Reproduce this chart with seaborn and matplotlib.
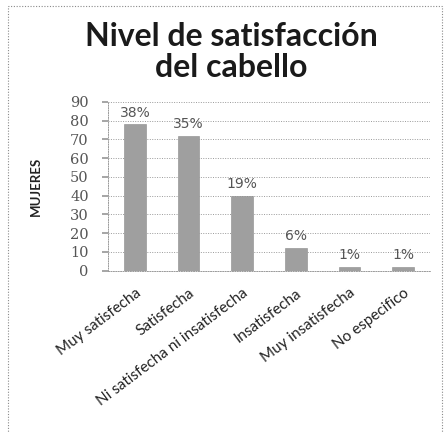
import matplotlib
matplotlib.use("Agg")
import matplotlib.pyplot as plt
from matplotlib.patches import Rectangle
import seaborn as sns
import pandas as pd

categorias = ["Muy satisfecha", "Satisfecha", "Ni satisfecha ni insatisfecha",
              "Insatisfecha", "Muy insatisfecha", "No especifico"]
mujeres = [78, 72, 40, 12, 2, 2]
y_ticks = [0, 10, 20, 30, 40, 50, 60, 70, 80, 90]

total = sum(mujeres)
porcentajes = [f"{round(v / total * 100)}%" for v in mujeres]

df = pd.DataFrame({"categoria": categorias, "mujeres": mujeres})

sns.set_theme(style="white")
plt.rcParams["font.family"] = ["Lato", "DejaVu Sans"]

fig = plt.figure(figsize=(4.45, 4.33), dpi=100)
ax = fig.add_axes([0.243, 0.375, 0.723, 0.39])

sns.barplot(data=df, x="categoria", y="mujeres", color="#9f9f9f",
            width=0.4, saturation=1, ax=ax, edgecolor="#8a8a8a", linewidth=0.4)

ax.set_ylim(0, 90)
ax.set_yticks(y_ticks)
ax.set_yticklabels([str(t) for t in y_ticks], fontsize=10.5, color="#555555",
                   family=["DejaVu Serif"])
ax.yaxis.grid(True, linestyle=(0, (1, 1.5)), color="#9a9a9a", linewidth=0.7)
ax.set_axisbelow(True)
for side in ["top", "right"]:
    ax.spines[side].set_visible(False)
for side in ["left", "bottom"]:
    ax.spines[side].set_linestyle((0, (1, 1.5)))
    ax.spines[side].set_color("#9a9a9a")
    ax.spines[side].set_linewidth(0.7)
ax.tick_params(axis="y", length=4, color="#9a9a9a", pad=10, left=True)
ax.tick_params(axis="x", length=0, pad=11)

ax.set_xlabel("")
ax.set_ylabel("MUJERES", fontsize=9.5, fontweight="bold", color="#222222", labelpad=20)
ax.set_xticks(range(len(categorias)))
ax.set_xticklabels(categorias, rotation=37, ha="right", rotation_mode="anchor",
                   fontsize=11, color="#222222")

for i, (v, lab) in enumerate(zip(mujeres, porcentajes)):
    ax.text(i, v + 2.5, lab, ha="center", va="bottom", fontsize=10,
            color="#555555", family=["DejaVu Sans"])

fig.text(0.52, 0.88, "Nivel de satisfacción\ndel cabello", ha="center", va="center",
         fontsize=23, fontweight="bold", color="#1a1a1a", linespacing=1.1)

fig.patches.append(Rectangle((8 / 445, -0.02), 434 / 445, 1 - 6 / 433 + 0.02,
                             transform=fig.transFigure, fill=False,
                             edgecolor="#8a8a8a", linewidth=0.8,
                             linestyle=(0, (1, 1.5))))

fig.savefig("out.png", dpi=100, facecolor="white")
